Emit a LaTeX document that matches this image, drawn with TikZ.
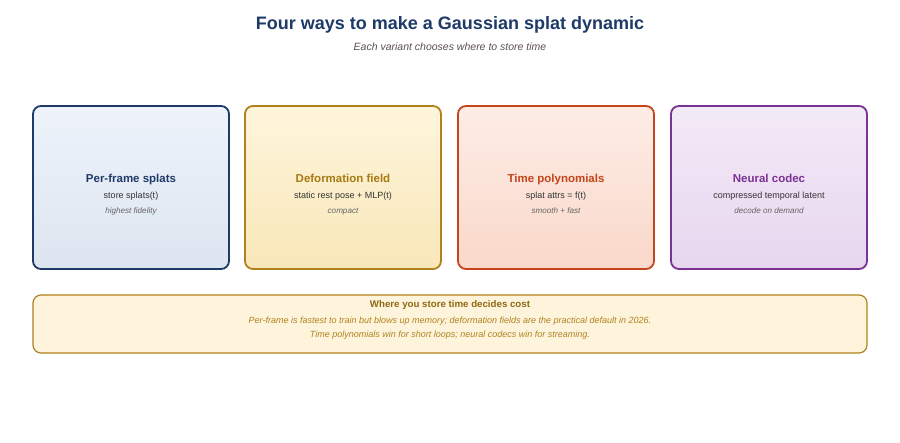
\documentclass[tikz,border=0pt]{standalone}
\usepackage{fontspec}
\setmainfont{Liberation Sans}
\begin{document}
\begin{tikzpicture}[x=1pt,y=-1pt,
  every node/.style={anchor=base, inner sep=0pt},
  card/.style={rounded corners=8pt, line width=1.8pt},
  ttl/.style={font=\bfseries\fontsize{11.5}{14}\selectfont},
  sub/.style={font=\fontsize{9}{10}\selectfont, text=black!80},
  note/.style={font=\itshape\fontsize{8.1}{9}\selectfont, text=black!60}]
\definecolor{navy}{HTML}{1E3A68}
\definecolor{gold}{HTML}{B0821E}
\definecolor{goldt}{HTML}{A87A14}
\definecolor{rust}{HTML}{C4441C}
\definecolor{plum}{HTML}{7A3294}
\definecolor{subg}{HTML}{5C5050}
\definecolor{c1t}{HTML}{EEF3FB}\definecolor{c1b}{HTML}{DCE5F0}
\definecolor{c2t}{HTML}{FEF5DC}\definecolor{c2b}{HTML}{F8E7B8}
\definecolor{c3t}{HTML}{FDEDE6}\definecolor{c3b}{HTML}{F9D8CA}
\definecolor{c4t}{HTML}{F3EAF7}\definecolor{c4b}{HTML}{E7D6EF}
\definecolor{bfill}{HTML}{FEF4DC}
\useasboundingbox (0,0) rectangle (900,442);
\fill[white] (0,0) rectangle (900,442);
\node[font=\bfseries\fontsize{18}{22}\selectfont, text=navy] (title) at (450,29) {Four ways to make a Gaussian splat dynamic};
\node[font=\itshape\fontsize{10.5}{12}\selectfont, text=subg] (subtitle) at (450,50) {Each variant chooses where to store time};
% cards
\draw[card, draw=navy, top color=c1t, bottom color=c1b] (33,106) rectangle (229,269);
\draw[card, draw=gold, top color=c2t, bottom color=c2b] (245,106) rectangle (441,269);
\draw[card, draw=rust, top color=c3t, bottom color=c3b] (458,106) rectangle (654,269);
\draw[card, draw=plum, top color=c4t, bottom color=c4b] (671,106) rectangle (867,269);
\node[ttl, text=navy] (t1) at (131,182) {Per-frame splats};
\node[sub] (s1) at (131,198.5) {store splats(t)};
\node[note] (n1) at (131,213) {highest fidelity};
\node[ttl, text=goldt] (t2) at (343,182) {Deformation field};
\node[sub] (s2) at (343,198.5) {static rest pose + MLP(t)};
\node[note] (n2) at (343,213) {compact};
\node[ttl, text=rust] (t3) at (556,182) {Time polynomials};
\node[sub] (s3) at (556,198.5) {splat attrs = f(t)};
\node[note] (n3) at (556,213) {smooth + fast};
\node[ttl, text=plum] (t4) at (769,182) {Neural codec};
\node[sub] (s4) at (769,198.5) {compressed temporal latent};
\node[note] (n4) at (769,213) {decode on demand};
% bottom
\draw[rounded corners=8pt, line width=1.2pt, draw=gold, fill=bfill] (33,295) rectangle (867,353);
\node[font=\bfseries\fontsize{9.7}{11}\selectfont, text=goldt!85!black] (bt) at (450,307.5) {Where you store time decides cost};
\node[font=\itshape\fontsize{9}{10}\selectfont, text=gold] (b1) at (450,323) {Per-frame is fastest to train but blows up memory; deformation fields are the practical default in 2026.};
\node[font=\itshape\fontsize{9}{10}\selectfont, text=gold] (b2) at (450,337.5) {Time polynomials win for short loops; neural codecs win for streaming.};
\end{tikzpicture}
\end{document}
